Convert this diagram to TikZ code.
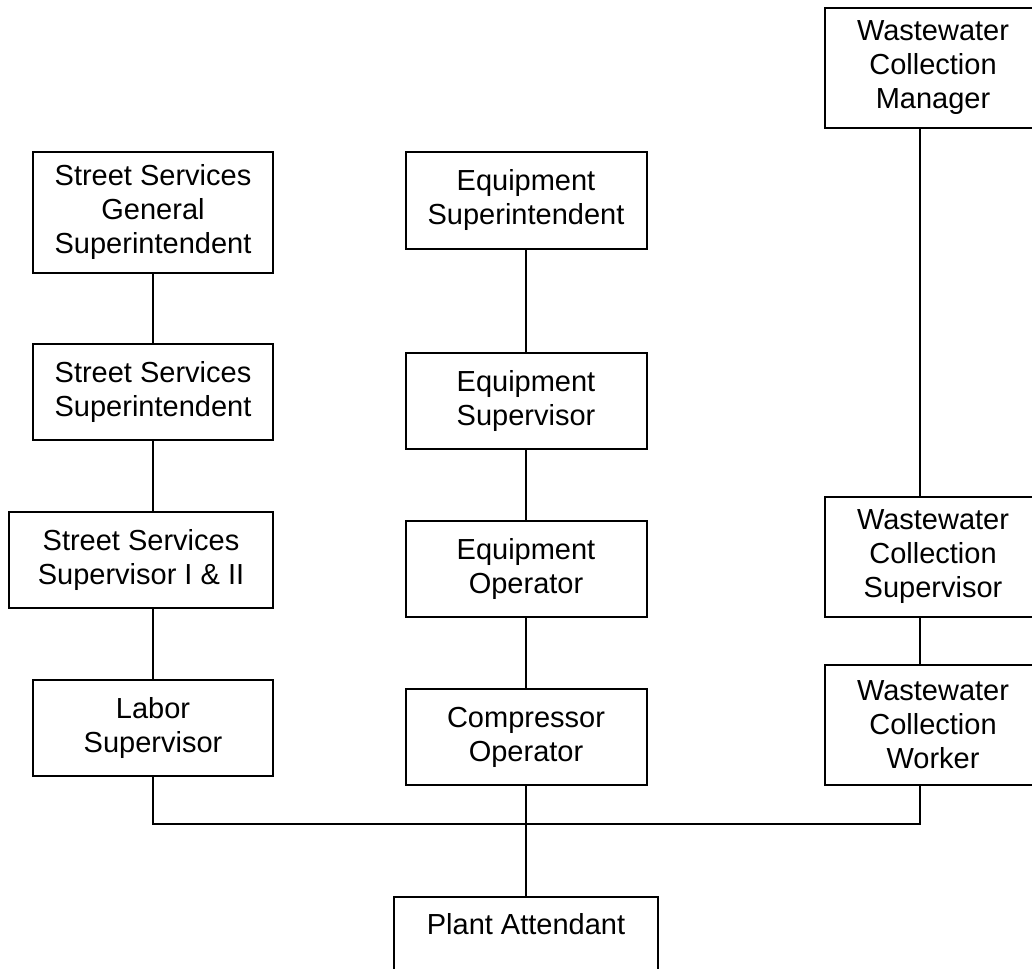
\documentclass[tikz,border=0pt]{standalone}
\usepackage{fontspec}
\setmainfont{Liberation Sans}
\begin{document}
\begin{tikzpicture}[x=1pt,y=-1pt,
  orgbox/.style={draw=black, line width=2pt, fill=white, inner sep=0pt, align=center,
    font=\fontsize{29}{34}\selectfont},
  link/.style={draw=black, line width=1.6pt}]
\useasboundingbox (0,0) rectangle (1032,968);
\clip (0,0) rectangle (1032,968);
\coordinate (rx) at (920,0);
\coordinate (bus) at (526,824);
% left column
\node[orgbox, minimum width=240pt, minimum height=121pt] (ssgs) at (153,212.5) {Street Services\\General\\Superintendent};
\node[orgbox, minimum width=240pt, minimum height=96pt] (sss) at (153,392) {Street Services\\Superintendent};
\node[orgbox, minimum width=264pt, minimum height=96pt] (sssup) at (141,560) {Street Services\\Supervisor I \& II};
\node[orgbox, minimum width=240pt, minimum height=96pt] (labor) at (153,728) {Labor\\Supervisor};
% middle column
\node[orgbox, minimum width=241pt, minimum height=97pt] (es) at (526,200.5) {Equipment\\Superintendent};
\node[orgbox, minimum width=241pt, minimum height=96pt] (esup) at (526,401) {Equipment\\Supervisor};
\node[orgbox, minimum width=241pt, minimum height=96pt] (eop) at (526,569) {Equipment\\Operator};
\node[orgbox, minimum width=241pt, minimum height=96pt] (cop) at (526,737) {Compressor\\Operator};
% right column
\node[orgbox, minimum width=216pt, minimum height=120pt] (wcm) at (933,68) {Wastewater\\Collection\\Manager};
\node[orgbox, minimum width=216pt, minimum height=120pt] (wcs) at (933,557) {Wastewater\\Collection\\Supervisor};
\node[orgbox, minimum width=216pt, minimum height=120pt] (wcw) at (933,725) {Wastewater\\Collection\\Worker};
% bottom
\node[orgbox, minimum width=264pt, text height=37pt, text depth=59pt, anchor=north] (pa) at (526,896) {Plant Attendant};
% lines
\draw[link] (ssgs.south) -- (sss.north);
\draw[link] (sss.south) -- (sss.south |- sssup.north);
\draw[link] (labor.north |- sssup.south) -- (labor.north);
\draw[link] (es.south) -- (esup.north);
\draw[link] (esup.south) -- (eop.north);
\draw[link] (eop.south) -- (cop.north);
\draw[link] (wcm.south -| rx) -- (wcs.north -| rx);
\draw[link] (wcs.south -| rx) -- (wcw.north -| rx);
\draw[link] (labor.south) |- (bus) -| (wcw.south -| rx);
\draw[link] (cop.south) -- (pa.north);
\end{tikzpicture}
\end{document}
